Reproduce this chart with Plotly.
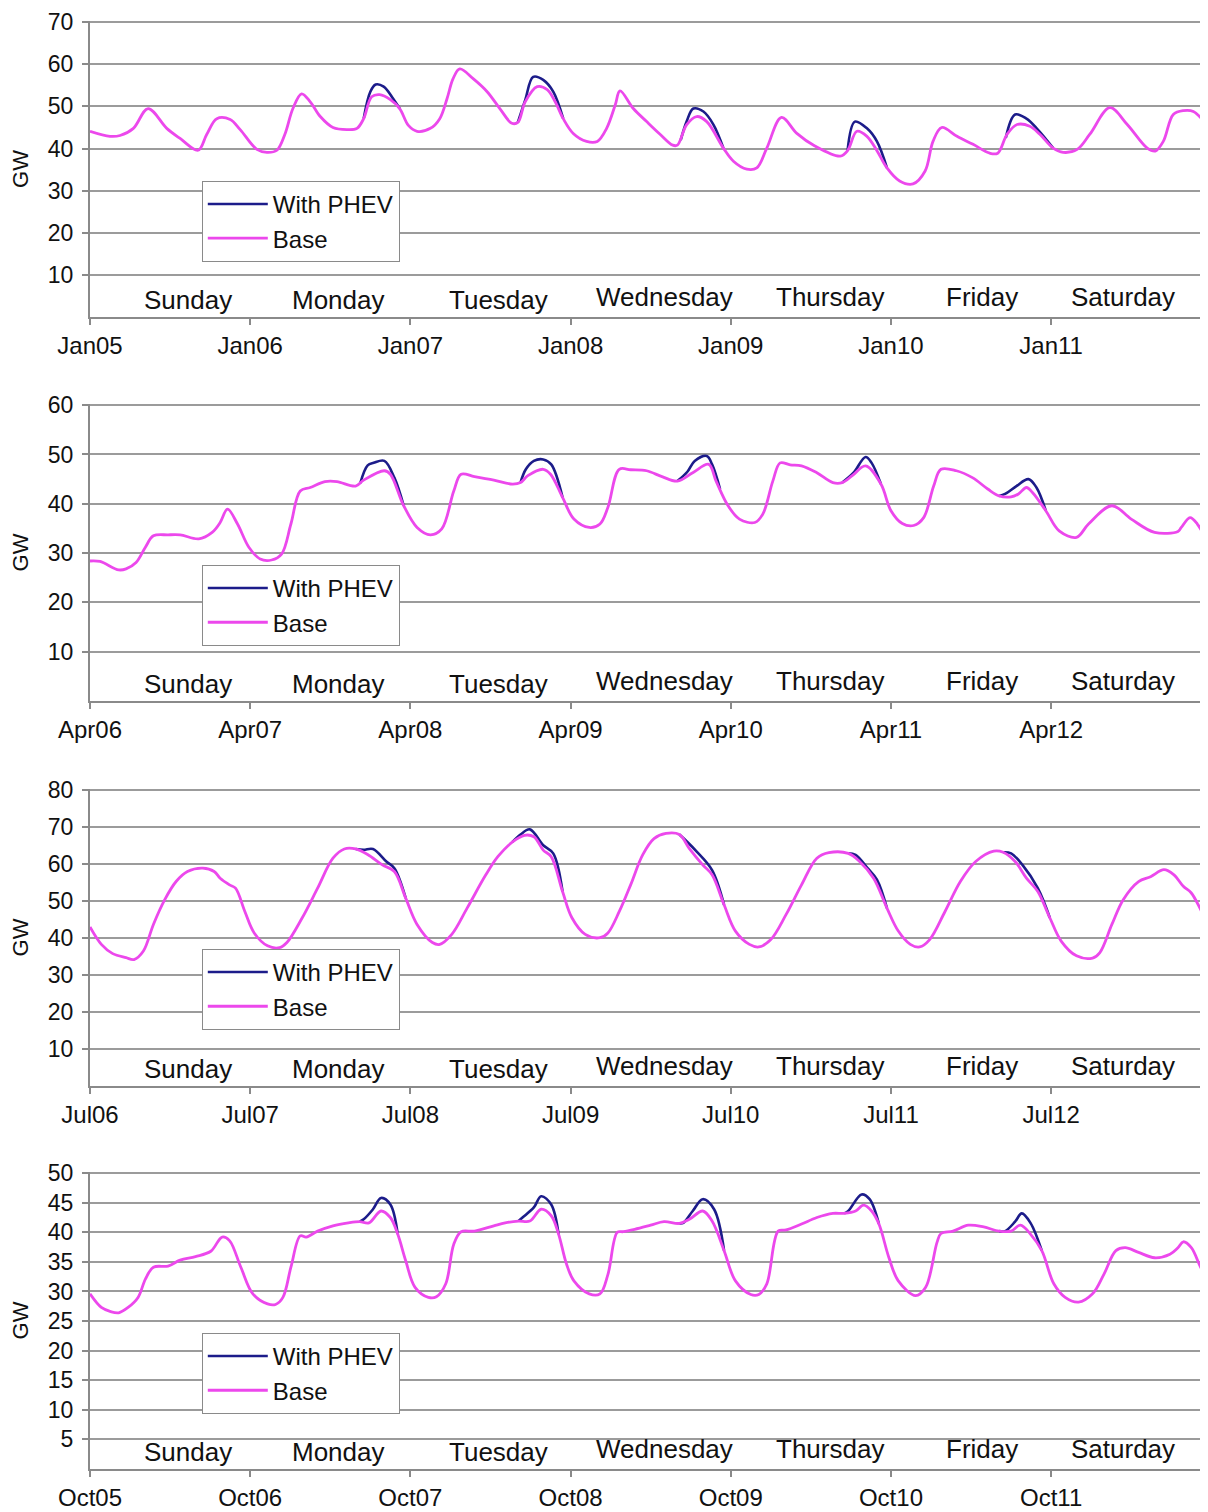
import plotly.graph_objects as go
from plotly.subplots import make_subplots

FONT = "Liberation Sans, Arial, Helvetica, sans-serif"
PHEV_COLOR = "#1c1c8a"
BASE_COLOR = "#ec48ec"
GRID = "#9b9b9b"
AXIS = "#8a8a8a"

day_names = ["Sunday", "Monday", "Tuesday", "Wednesday", "Thursday", "Friday", "Saturday"]
day_hours = [14.7, 37.2, 61.2, 86.0, 110.9, 133.6, 154.8]
day_label_y = [0.057, 0.057, 0.057, 0.067, 0.067, 0.067, 0.067]
tick_hours = [0, 24, 48, 72, 96, 120, 144]

# ---- January week ----
jan_ticks = ["Jan05", "Jan06", "Jan07", "Jan08", "Jan09", "Jan10", "Jan11"]
jan_yticks = [10, 20, 30, 40, 50, 60, 70]
jan_hours = [0, 3, 4.5, 6.5, 8.7, 11.5, 13.5, 16.2, 17.5, 19, 21, 22.5, 25, 26.5, 28, 29.2,
             30.4, 31.7, 33, 34.5, 36.4, 38.5, 40, 41, 42.2, 43.4, 45, 46.4, 47.7, 49, 51,
             52.4, 53.5, 54.4, 55.4, 57.4, 59.5, 61.4, 63.2, 64.1, 65.2, 67, 68.5, 69.7,
             70.9, 72.4, 74.4, 76, 77.4, 78.7, 79.4, 81.4, 83.4, 85.4, 87.3, 88, 89.4, 90.9,
             92.4, 94.9, 96.4, 98.4, 99.9, 101.4, 103.6, 105.9, 108.6, 112.4, 113.5, 114.9,
             116.4, 117.9, 119.4, 121.3, 123.3, 125.1, 126.3, 127.6, 129.9, 132.3, 134.8,
             136, 137.4, 138.9, 140.8, 142.3, 144.3, 145.8, 147.9, 149.8, 152.8, 155.4,
             158.4, 159.6, 160.8, 162.3, 163.8, 165.3, 167.5]
jan_base = [44.1, 42.9, 43.1, 44.8, 49.5, 44.8, 42.4, 39.6, 43.4, 47.1, 46.9, 44.5, 39.8, 39.1,
            39.6, 43.4, 49.5, 53.0, 51.1, 47.6, 45.0, 44.5, 44.8, 47.1, 52.3, 52.8, 51.6, 49.5,
            45.5, 44.1, 44.8, 47.1, 51.9, 56.6, 58.9, 56.6, 53.5, 49.5, 46.0, 46.2, 51.1, 54.7,
            54.0, 51.1, 47.1, 43.6, 41.7, 41.7, 44.8, 50.4, 53.7, 49.5, 46.4, 43.4, 40.8, 40.8,
            45.7, 47.6, 46.4, 40.1, 37.0, 35.1, 35.4, 40.1, 47.4, 43.6, 40.6, 38.2, 39.5, 44.1,
            42.9, 39.5, 35.4, 32.3, 31.6, 34.6, 41.7, 45.0, 42.9, 41.0, 38.9, 38.9, 43.4, 45.7,
            45.3, 43.4, 40.1, 39.1, 39.8, 43.4, 49.7, 45.7, 40.1, 39.4, 41.7, 48.1, 49.0, 48.8,
            45.3]
jan_phev_hours = [41, 42, 42.8, 44, 45.4, 46.4, None,
                  64.1, 65.2, 66.4, 67.9, 69.4, 70.9, None,
                  88.5, 89.4, 90.4, 91.9, 93.4, 94.9, None,
                  113.5, 114.6, 116.4, 117.9, 119.4, None,
                  137.2, 138.6, 140.3, 142, 144.3]
jan_phev = [47.1, 53.5, 55.2, 54.7, 51.9, 49.5, None,
            46.2, 51.5, 57.0, 56.3, 53.5, 47.1, None,
            42.0, 46.5, 49.5, 48.8, 45.7, 40.1, None,
            39.5, 46.4, 44.8, 41.7, 35.4, None,
            42.5, 48.1, 47.1, 44.5, 40.1]

# ---- April week ----
apr_ticks = ["Apr06", "Apr07", "Apr08", "Apr09", "Apr10", "Apr11", "Apr12"]
apr_yticks = [10, 20, 30, 40, 50, 60]
apr_hours = [0, 1.5, 4.3, 5.4, 6.9, 8.3, 9.5, 11.7, 13.5, 16.3, 18.3, 19.5, 20.6, 22.1, 23.8,
             25.5, 27.2, 28.7, 30.1, 31.5, 33, 35.2, 37, 39.8, 41, 44.1, 45, 47, 49, 51, 52.7,
             54.5, 55.6, 57.6, 60.5, 63.3, 64.5, 65.6, 67.9, 69, 70.8, 72.5, 74.8, 76.4, 77.6,
             79.3, 81.0, 83.4, 85.7, 88.0, 90.3, 92.7, 93.8, 95.6, 97.3, 99.6, 100.8, 102.3,
             103.4, 104.9, 106.6, 108.9, 111.3, 112.7, 114.2, 116.2, 118.5, 120.0, 121.7,
             123.4, 124.9, 126.4, 127.5, 129.8, 132.2, 134.5, 136.2, 138.0, 139.1, 140.3,
             141.2, 143.2, 145.2, 147.8, 149.6, 153.1, 156.0, 159.5, 163.0, 163.5, 164.8,
             165.9, 167.5]
apr_base = [28.4, 28.3, 26.6, 26.8, 28.1, 31.2, 33.5, 33.7, 33.7, 32.9, 34.2, 36.2, 38.9, 35.9,
            31.2, 28.8, 28.6, 29.8, 35.9, 42.6, 43.3, 44.5, 44.5, 43.6, 44.8, 46.7, 46.0, 39.6,
            35.2, 33.7, 34.9, 42.6, 46.0, 45.5, 44.8, 44.0, 44.3, 45.7, 47.0, 46.0, 41.3, 36.9,
            35.2, 35.9, 39.3, 47.0, 46.9, 46.7, 45.5, 44.6, 46.3, 48.0, 44.6, 39.6, 36.9, 36.2,
            37.9, 44.6, 48.3, 47.9, 47.7, 46.3, 44.3, 44.3, 45.7, 47.7, 44.0, 38.6, 36.0, 35.6,
            37.2, 43.6, 47.0, 46.7, 45.3, 43.0, 41.6, 41.4, 42.0, 43.3, 42.3, 38.6, 34.5, 33.2,
            35.9, 39.6, 36.9, 34.2, 34.4, 35.2, 37.2, 35.9, 31.9]
apr_phev_hours = [40.5, 41.6, 42.5, 44.1, 45.6, 47, None,
                  64.5, 65.3, 66.5, 67.9, 69.1, 70.8, None,
                  88.0, 89.5, 90.6, 92.4, 93.2, 94.4, None,
                  112.7, 114.4, 116.2, 117.1, 118.5, None,
                  136.2, 137.1, 138.8, 140.6, 141.8, 143.2]
apr_phev = [44.2, 47.8, 48.3, 48.7, 45.3, 39.6, None,
            44.3, 47.0, 48.7, 49.0, 48.0, 41.3, None,
            44.6, 46.5, 48.7, 49.7, 48.0, 43.0, None,
            44.3, 46.3, 49.5, 48.3, 44.0, None,
            41.6, 42.0, 43.6, 45.0, 43.3, 38.6]

# ---- July week ----
jul_ticks = ["Jul06", "Jul07", "Jul08", "Jul09", "Jul10", "Jul11", "Jul12"]
jul_yticks = [10, 20, 30, 40, 50, 60, 70, 80]
jul_hours = [0, 1.7, 3.4, 5.4, 6.6, 8.0, 9.5, 11.2, 12.9, 14.6, 16.9, 18.6, 19.5, 20.9, 21.8,
             23.2, 24.6, 26.6, 28.4, 29.5, 31.8, 34.1, 36.4, 38.1, 39.8, 41.6, 43.8, 45.6,
             47.3, 49.0, 51.3, 52.4, 54.2, 56.5, 59.3, 61.1, 63.3, 65.1, 66.5, 67.9, 69.1,
             70.8, 72.2, 74.2, 76.4, 77.6, 79.3, 81.0, 82.8, 84.5, 86.3, 88.3, 89.8, 91.8,
             93.2, 95.0, 96.7, 98.8, 100.2, 102.0, 104.3, 106.6, 108.9, 110.7, 113.6, 115.3,
             117.4, 119.4, 121.1, 122.9, 124.3, 125.8, 128.1, 130.4, 132.7, 135.4, 136.8,
             138.6, 140.3, 142.0, 143.8, 145.5, 147.8, 150.2, 151.3, 153.1, 154.8, 157.1,
             158.9, 160.9, 162.4, 163.8, 165.0, 166.4, 167.5]
jul_base = [43.0, 38.3, 35.8, 34.7, 34.2, 36.5, 43.7, 50.4, 55.3, 58.0, 58.9, 58.0, 56.2, 54.4,
            53.5, 47.2, 41.4, 37.9, 37.4, 38.8, 45.5, 53.5, 61.6, 64.1, 64.1, 62.6, 59.8, 58.0,
            50.8, 43.7, 38.8, 38.3, 41.0, 48.1, 57.1, 62.0, 66.0, 67.8, 67.4, 63.8, 62.0, 52.6,
            45.5, 41.0, 40.1, 41.4, 47.2, 54.4, 62.5, 66.9, 68.3, 68.0, 64.2, 59.8, 57.1, 49.0,
            41.9, 38.3, 37.6, 39.6, 46.4, 54.4, 61.6, 63.1, 62.9, 60.7, 56.2, 48.1, 41.9, 38.3,
            37.6, 39.6, 47.2, 55.3, 60.7, 63.5, 63.2, 60.7, 56.2, 52.6, 45.5, 39.2, 35.2, 34.6,
            36.1, 43.7, 50.4, 55.3, 56.6, 58.5, 57.1, 54.0, 52.2, 47.7, 43.7]
jul_phev_hours = [39.8, 41.0, 42.4, 44.4, 45.6, 47.3, None,
                  63.3, 64.5, 65.9, 67.9, 69.4, 70.8, None,
                  88.3, 89.5, 90.9, 93.2, 95.0, None,
                  113.6, 114.7, 116.5, 117.9, 119.4, None,
                  136.8, 138.0, 139.7, 142.0, 143.8]
jul_phev = [64.1, 63.9, 64.1, 60.7, 58.9, 50.8, None,
            66.0, 68.0, 69.4, 65.1, 62.9, 52.6, None,
            68.0, 66.0, 63.4, 58.4, 49.0, None,
            62.9, 62.5, 58.9, 55.8, 48.1, None,
            63.2, 62.9, 59.8, 53.5, 45.5]

# ---- October week ----
oct_ticks = ["Oct05", "Oct06", "Oct07", "Oct08", "Oct09", "Oct10", "Oct11"]
oct_yticks = [5, 10, 15, 20, 25, 30, 35, 40, 45, 50]
oct_hours = [0, 1.7, 3.1, 4.3, 5.7, 7.2, 8.3, 9.5, 11.7, 13.5, 15.8, 18.1, 19.8, 20.9, 22.6,
             24.4, 26.6, 27.8, 28.9, 30.1, 31.5, 32.4, 34.1, 36.4, 38.7, 40.4, 41.8, 43.6,
             45.0, 46.1, 47.3, 48.7, 50.7, 51.9, 53.3, 54.5, 55.6, 57.6, 60.5, 62.2, 64.2,
             65.9, 67.6, 69.1, 70.2, 71.4, 72.5, 74.8, 76.4, 77.6, 79.0, 79.9, 81.6, 84.0,
             86.0, 88.3, 89.8, 91.8, 93.2, 95.0, 96.7, 99.0, 100.2, 101.4, 103.1, 104.3,
             106.6, 108.9, 111.3, 113.0, 114.7, 115.9, 117.1, 118.2, 119.7, 121.1, 123.7,
             125.2, 126.9, 127.5, 129.3, 131.6, 133.9, 136.2, 138.0, 139.4, 140.9, 142.6,
             144.4, 146.1, 148.1, 150.2, 151.9, 153.7, 155.1, 157.1, 159.5, 161.8, 163.0,
             163.8, 165.0, 166.4, 167.5]
oct_base = [29.6, 27.3, 26.6, 26.4, 27.3, 29.0, 32.1, 34.1, 34.3, 35.3, 35.9, 36.8, 39.2, 38.6,
            34.1, 29.6, 27.9, 27.8, 29.0, 34.1, 39.4, 39.2, 40.2, 41.1, 41.6, 41.8, 41.6, 43.6,
            42.5, 39.7, 35.2, 30.7, 29.0, 29.1, 31.3, 38.0, 40.1, 40.2, 41.1, 41.6, 41.9, 41.9,
            43.9, 42.8, 39.7, 34.6, 31.8, 29.6, 29.6, 32.9, 40.0, 40.1, 40.5, 41.2, 41.8, 41.5,
            42.2, 43.6, 41.9, 36.9, 31.8, 29.5, 29.5, 31.3, 40.2, 40.4, 41.4, 42.5, 43.2, 43.2,
            43.6, 44.6, 43.6, 41.4, 35.7, 31.8, 29.3, 30.7, 38.3, 39.8, 40.2, 41.2, 40.9, 40.2,
            40.2, 41.2, 39.7, 36.9, 31.3, 29.0, 28.2, 29.6, 32.9, 36.9, 37.4, 36.6, 35.7, 36.3,
            37.4, 38.4, 37.4, 34.1, 32.1]
oct_phev_hours = [40.4, 41.0, 42.4, 43.6, 45.0, 46.1, None,
                  64.2, 64.8, 66.5, 67.6, 69.1, 70.2, None,
                  88.3, 88.9, 90.3, 91.8, 93.5, 95.0, None,
                  113.0, 113.6, 115.6, 116.8, 118.2, None,
                  136.2, 137.1, 138.6, 139.6, 140.9, 142.6]
oct_phev = [41.8, 42.2, 43.9, 45.8, 44.7, 39.7, None,
            41.9, 42.5, 44.2, 46.1, 44.7, 39.7, None,
            41.5, 41.6, 43.6, 45.6, 43.9, 36.9, None,
            43.2, 43.6, 46.4, 45.6, 41.4, None,
            40.2, 40.2, 41.8, 43.2, 41.6, 36.9]

panels = [
    dict(ticks=jan_ticks, yticks=jan_yticks, hours=jan_hours, base=jan_base,
         phev_hours=jan_phev_hours, phev=jan_phev),
    dict(ticks=apr_ticks, yticks=apr_yticks, hours=apr_hours, base=apr_base,
         phev_hours=apr_phev_hours, phev=apr_phev),
    dict(ticks=jul_ticks, yticks=jul_yticks, hours=jul_hours, base=jul_base,
         phev_hours=jul_phev_hours, phev=jul_phev),
    dict(ticks=oct_ticks, yticks=oct_yticks, hours=oct_hours, base=oct_base,
         phev_hours=oct_phev_hours, phev=oct_phev),
]

# layout positions (plot area 1449 px tall between margins)
domains = [[0.7950, 0.9993], [0.5300, 0.7350], [0.2643, 0.4693], [0.0, 0.2050]]
legend_tops = [0.8890, 0.6239, 0.3589, 0.0939]

fig = make_subplots(rows=4, cols=1)

for i, p in enumerate(panels, start=1):
    leg = "legend" if i == 1 else f"legend{i}"
    fig.add_trace(go.Scatter(
        x=p["phev_hours"], y=p["phev"], mode="lines", name="With PHEV",
        line=dict(color=PHEV_COLOR, width=2.6, shape="spline", smoothing=1.0),
        legend=leg, connectgaps=False,
    ), row=i, col=1)
    fig.add_trace(go.Scatter(
        x=p["hours"], y=p["base"], mode="lines", name="Base",
        line=dict(color=BASE_COLOR, width=2.8, shape="spline", smoothing=1.0),
        legend=leg,
    ), row=i, col=1)

    fig.update_xaxes(
        range=[0, 167.5], tickvals=tick_hours, ticktext=p["ticks"],
        ticks="outside", ticklen=6, tickcolor=AXIS, tickwidth=1.5,
        showline=True, linecolor=AXIS, linewidth=2, showgrid=False, zeroline=False,
        tickfont=dict(size=24, color="#111", family=FONT), ticklabelstandoff=0,
        automargin=False, row=i, col=1)
    top = p["yticks"][-1]
    fig.update_yaxes(
        range=[0, top * 1.004], tickvals=p["yticks"],
        ticks="outside", ticklen=6, tickcolor=AXIS, tickwidth=1.5,
        showline=True, linecolor=AXIS, linewidth=2, zeroline=False,
        showgrid=True, gridcolor=GRID, gridwidth=1.5,
        tickfont=dict(size=23, color="#111", family=FONT), ticklabelstandoff=4,
        ticklabeloverflow="allow",
        title=dict(text="GW", font=dict(size=22, color="#111", family=FONT), standoff=14),
        automargin=False, domain=domains[i - 1], row=i, col=1)

    fig.update_layout({leg: dict(
        x=0.1, y=legend_tops[i - 1], xanchor="left", yanchor="top",
        bgcolor="white", bordercolor=AXIS, borderwidth=1,
        font=dict(size=24, color="#111", family=FONT),
        tracegroupgap=0, itemwidth=60,
    )})

    xref = "x" if i == 1 else f"x{i}"
    yref = "y domain" if i == 1 else f"y{i} domain"
    for name, h, yy in zip(day_names, day_hours, day_label_y):
        fig.add_annotation(x=h, y=yy, xref=xref, yref=yref, text=name, showarrow=False,
                           xanchor="center", yanchor="middle",
                           font=dict(size=26, color="#111", family=FONT))

# the page body adds an 8 px margin, so the figure is 8 px smaller and offsets shrink
fig.update_layout(
    width=1200, height=1504,
    margin=dict(l=82, r=0, t=12, b=43),
    paper_bgcolor="white", plot_bgcolor="white",
    font=dict(family=FONT, color="#111"),
    showlegend=True,
)

fig.write_html("out.html")
